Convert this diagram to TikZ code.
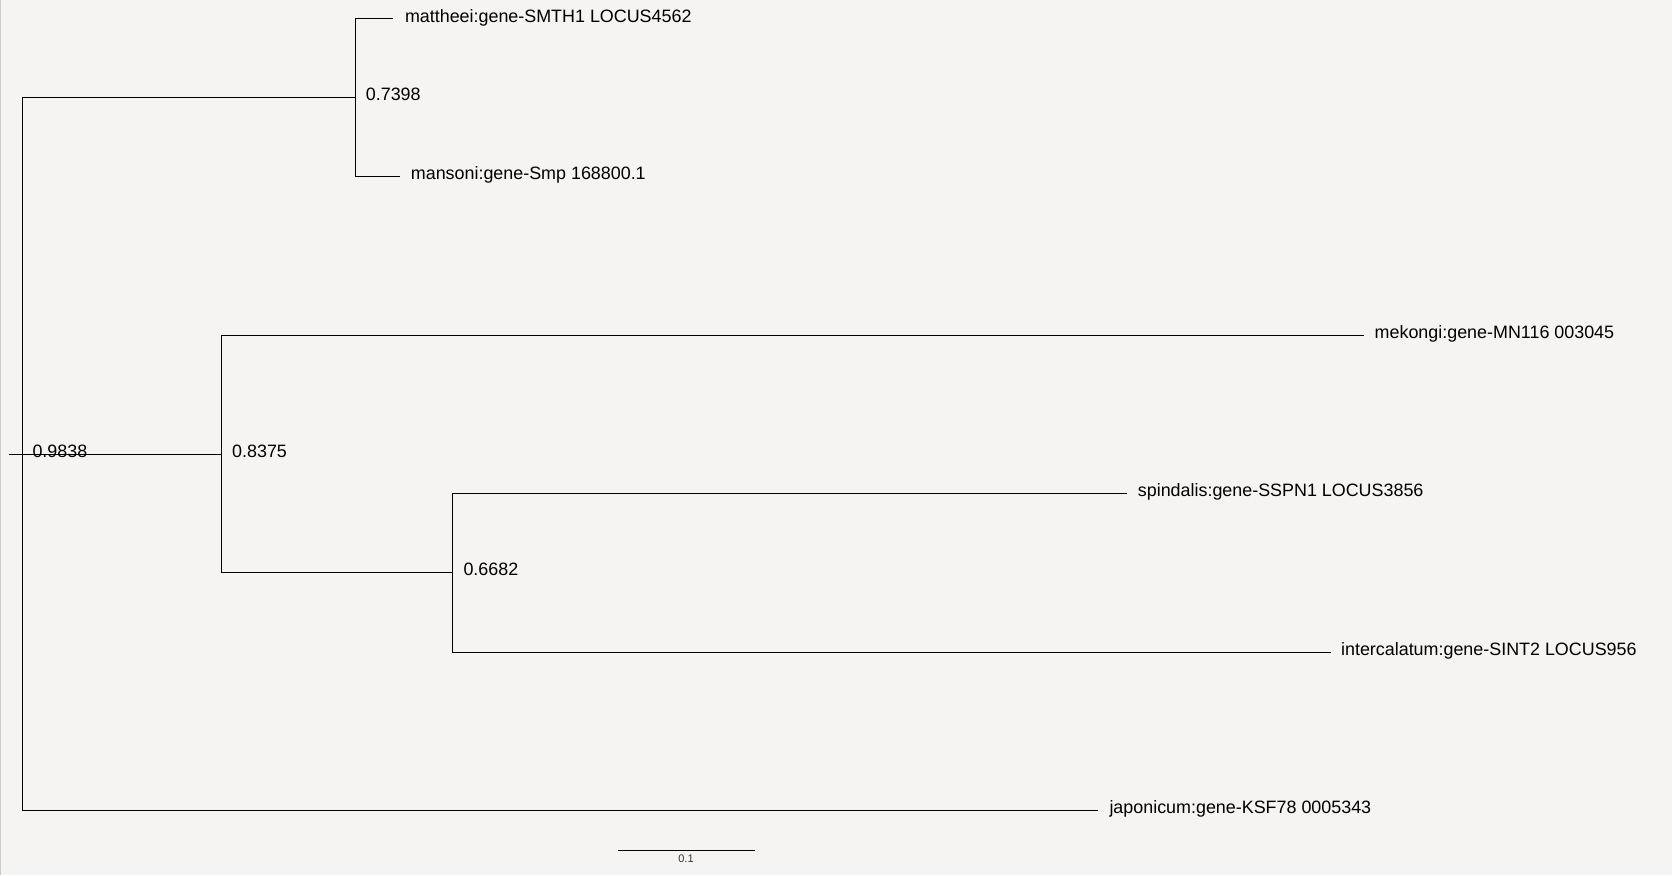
\documentclass[tikz,border=0pt]{standalone}
\usepackage{fontspec}
\setmainfont{Liberation Sans}
\definecolor{bg}{HTML}{F5F4F2}
\definecolor{frameedge}{HTML}{CFCAC3}
\definecolor{scaletext}{HTML}{333333}
\begin{document}
\begin{tikzpicture}[x=1pt,y=-1pt,
  branch/.style={line width=1pt, black},
  leaf/.style={anchor=base west, inner sep=0pt, font=\fontsize{17.9}{20}\selectfont},
  support/.style={anchor=base west, inner sep=0pt, font=\fontsize{17.9}{20}\selectfont},
  scalelbl/.style={anchor=base, inner sep=0pt, text=scaletext, font=\fontsize{11}{12}\selectfont}]
\fill[bg] (0,0) rectangle (1672,875);
\useasboundingbox (0,0) rectangle (1672,875);
\fill[frameedge] (0,0) rectangle (1.3,875);

% internal nodes
\coordinate (stub) at (9,454);
\coordinate (root) at (22.3,454);
\coordinate (A) at (355.3,97.3);
\coordinate (B) at (221.3,454);
\coordinate (C) at (452.3,572.3);
% tips
\coordinate (tmat) at (393.3,18.7);
\coordinate (tman) at (400,176);
\coordinate (tmek) at (1363.8,335.5);
\coordinate (tspi) at (1127,493.5);
\coordinate (tint) at (1330.7,652.5);
\coordinate (tjap) at (1098.3,810.3);

% branches
\draw[branch] (stub) -- (B);
\draw[branch] (root) |- (A);
\draw[branch] (root) |- (tjap);
\draw[branch] (A) |- (tmat);
\draw[branch] (A) |- (tman);
\draw[branch] (B) |- (tmek);
\draw[branch] (B) |- (C);
\draw[branch] (C) |- (tspi);
\draw[branch] (C) |- (tint);

% tip labels
\node[leaf] (lmat) at ([shift={(11.5,3.4)}]tmat) {mattheei:gene-SMTH1 LOCUS4562};
\node[leaf] (lman) at ([shift={(10.7,3.4)}]tman) {mansoni:gene-Smp 168800.1};
\node[leaf] (lmek) at ([shift={(10.7,3.4)}]tmek) {mekongi:gene-MN116 003045};
\node[leaf] (lspi) at ([shift={(10.7,3.4)}]tspi) {spindalis:gene-SSPN1 LOCUS3856};
\node[leaf] (lint) at ([shift={(10.2,3.4)}]tint) {intercalatum:gene-SINT2 LOCUS956};
\node[leaf] (ljap) at ([shift={(11,3.4)}]tjap) {japonicum:gene-KSF78 0005343};

% support values
\node[support] (sroot) at ([shift={(10,3)}]root) {0.9838};
\node[support] (sA) at ([shift={(10.4,3)}]A) {0.7398};
\node[support] (sB) at ([shift={(10.7,3)}]B) {0.8375};
\node[support] (sC) at ([shift={(11,3)}]C) {0.6682};

% scale bar
\coordinate (sb1) at (618.3,850.3);
\coordinate (sb2) at (754.7,850.3);
\draw[branch] (sb1) -- (sb2);
\node[scalelbl] (sbl) at (686,862.5) {0.1};
\end{tikzpicture}
\end{document}
